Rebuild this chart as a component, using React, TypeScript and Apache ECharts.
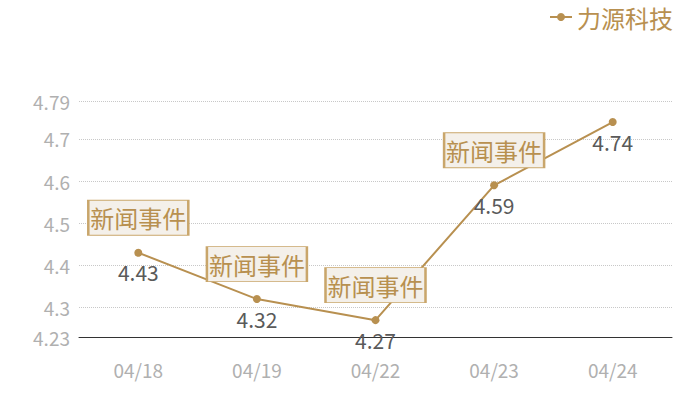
import { useEffect, useRef } from "react";
import * as echarts from "echarts";

const categories = ["04/18", "04/19", "04/22", "04/23", "04/24"];
const prices = [4.43, 4.32, 4.27, 4.59, 4.74];
const eventDays = ["04/18", "04/19", "04/22", "04/23"];
const eventLabel = "新闻事件";
const seriesName = "力源科技";

const GOLD = "#b89050";
const FONT = "'Noto Sans CJK SC', 'Noto Sans', sans-serif";

export default function App(): JSX.Element {
  const ref = useRef<HTMLDivElement | null>(null);

  useEffect(() => {
    const el = ref.current;
    if (!el) return;
    const chart = echarts.init(el, undefined, { renderer: "svg" });
    chart.setOption({
      animation: false,
      textStyle: { fontFamily: FONT },
      legend: {
        right: 22,
        top: 0,
        itemWidth: 22,
        itemHeight: 10,
        itemGap: 6,
        textStyle: { color: GOLD, fontSize: 24, fontFamily: FONT },
        data: [seriesName],
      },
      grid: { left: 79, right: 28, top: 101, bottom: 63 },
      xAxis: {
        type: "category",
        data: categories,
        axisLine: { lineStyle: { color: "#333", width: 1 } },
        axisTick: { show: false },
        axisLabel: { color: "#b0b0b0", fontSize: 19, margin: 23, fontFamily: FONT },
      },
      yAxis: {
        type: "value",
        min: 4.23,
        max: 4.79,
        axisLine: { show: false },
        axisTick: { show: false },
        axisLabel: { color: "#b0b0b0", fontSize: 19, margin: 9, fontFamily: FONT },
        splitLine: { lineStyle: { color: "#c8c8c8", type: "dotted" } },
      },
      series: [
        {
          name: seriesName,
          type: "line",
          data: prices,
          symbol: "circle",
          symbolSize: 8,
          lineStyle: { color: GOLD, width: 2 },
          itemStyle: { color: GOLD },
          label: {
            show: true,
            position: "bottom",
            distance: 5,
            color: "#5a5a5a",
            fontSize: 21,
            fontFamily: FONT,
          },
          markPoint: {
            symbol: "rect",
            symbolSize: [100, 35],
            symbolOffset: [0, -35],
            itemStyle: { color: "#f4f0ea", borderColor: "#c9a66b", borderWidth: 1.5 },
            label: { show: true, position: "inside", color: GOLD, fontSize: 24, fontFamily: FONT, formatter: eventLabel },
            data: eventDays.map((day) => ({
              coord: [day, prices[categories.indexOf(day)]],
              value: eventLabel,
            })),
          },
        },
      ],
    });
    return () => chart.dispose();
  }, []);

  return <div ref={ref} style={{ position: "absolute", left: 0, top: 0, width: 700, height: 400 }} />;
}
